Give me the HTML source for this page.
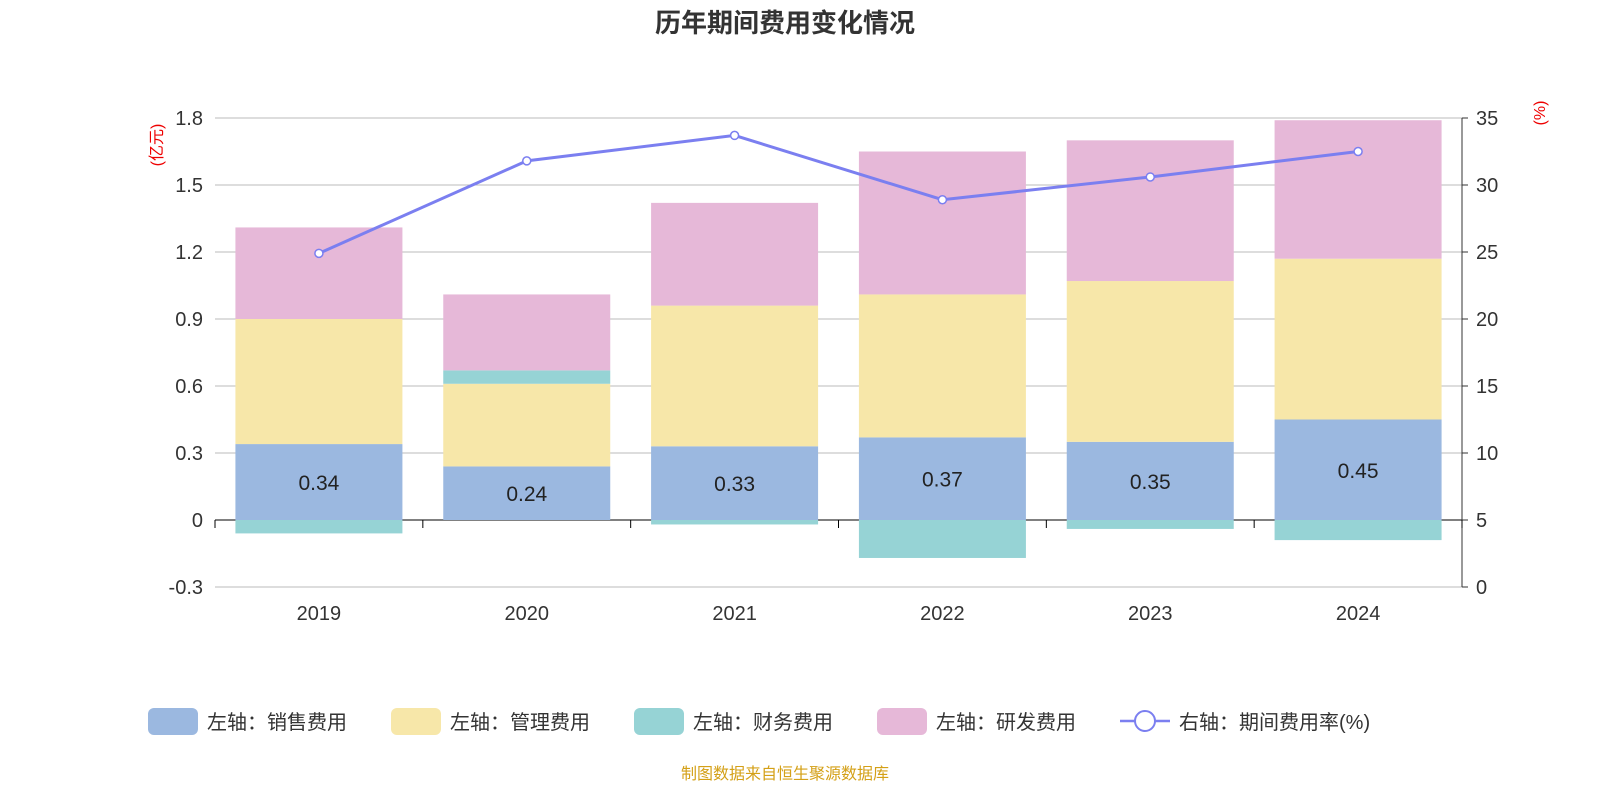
<!DOCTYPE html>
<html><head><meta charset="utf-8">
<style>
body{margin:0;background:#fff;font-family:"Liberation Sans","Noto Sans CJK SC",sans-serif;}
svg text{font-family:"Liberation Sans","Noto Sans CJK SC",sans-serif;}
</style></head>
<body>
<svg id="chart" width="1600" height="800" xmlns="http://www.w3.org/2000/svg">
<text x="785" y="32" text-anchor="middle" font-size="26" font-weight="bold" fill="#333">历年期间费用变化情况</text>
<text transform="translate(162,145) rotate(-90)" text-anchor="middle" font-size="16" fill="#e00">(亿元)</text>
<text transform="translate(1545,113) rotate(-90)" text-anchor="middle" font-size="16" fill="#e00">(%)</text>
<g id="grid"></g><g id="bars"></g><g id="line"></g><g id="axes"></g>
<g id="legend" font-size="20" fill="#333">
<rect x="148" y="708" width="50" height="27" rx="6" fill="#9bb8e0"/><text x="207" y="729">左轴：销售费用</text>
<rect x="391" y="708" width="50" height="27" rx="6" fill="#f7e7a9"/><text x="450" y="729">左轴：管理费用</text>
<rect x="634" y="708" width="50" height="27" rx="6" fill="#96d3d5"/><text x="693" y="729">左轴：财务费用</text>
<rect x="877" y="708" width="50" height="27" rx="6" fill="#e6b8d8"/><text x="936" y="729">左轴：研发费用</text>
<line x1="1120" y1="721" x2="1170" y2="721" stroke="#7b7ff0" stroke-width="2.5"/><circle cx="1145" cy="721" r="10" fill="#fff" stroke="#7b7ff0" stroke-width="2"/><text x="1179" y="729">右轴：期间费用率(%)</text>
</g>
<text x="785" y="779" text-anchor="middle" font-size="16" fill="#d4a017">制图数据来自恒生聚源数据库</text>
</svg>
<script>
const years=["2019","2020","2021","2022","2023","2024"];
const sales=[0.34,0.24,0.33,0.37,0.35,0.45];
const mgmt=[0.56,0.37,0.63,0.64,0.72,0.72];
const fin=[-0.06,0.06,-0.02,-0.17,-0.04,-0.09];
const rd=[0.41,0.34,0.46,0.64,0.63,0.62];
const rate=[24.9,31.8,33.7,28.9,30.6,32.5];
const leftTicks=[-0.3,0,0.3,0.6,0.9,1.2,1.5,1.8];
const rightTicks=[0,5,10,15,20,25,30,35];
const NS="http://www.w3.org/2000/svg";
const X0=215,X1=1462,T=118,B=587;
const band=(X1-X0)/years.length;
const xc=i=>X0+band*(i+0.5);
const yL=v=>B-(v+0.3)/2.1*(B-T);
const yR=v=>B-v/35*(B-T);
function mk(tag,attrs,parent){const e=document.createElementNS(NS,tag);for(const k in attrs)e.setAttribute(k,attrs[k]);document.getElementById(parent).appendChild(e);return e;}
leftTicks.forEach((t,i)=>{
 const g=mk('line',{x1:X0,x2:X1,y1:yL(t),y2:yL(t),stroke:t===0?'#000':'#bbb','stroke-width':1},'grid');
 
 
 const l=mk('text',{x:X0-12,y:yL(t)+7,'text-anchor':'end','font-size':20,fill:'#333'},'axes');l.textContent=String(t);
 
 
});
rightTicks.forEach(t=>{
 mk('line',{x1:X1,x2:X1+6,y1:yR(t),y2:yR(t),stroke:'#333'},'axes');
 const l=mk('text',{x:X1+14,y:yR(t)+7,'font-size':20,fill:'#333'},'axes');l.textContent=String(t);
 
 
});
mk('line',{x1:X1,x2:X1,y1:T,y2:B,stroke:'#333'},'axes');
for(let i=0;i<=years.length;i++){mk('line',{x1:X0+band*i,x2:X0+band*i,y1:yL(0),y2:yL(0)+8,stroke:'#000'},'axes');}
const bw=167;
years.forEach((y,i)=>{
 const lab=mk('text',{x:xc(i),y:620,'text-anchor':'middle','font-size':20,fill:'#333'},'axes');lab.textContent=y;
 
 
 let pos=0,neg=0;
 const series=[[sales[i],'#9bb8e0','bar-sales'],[mgmt[i],'#f7e7a9','bar-management'],[fin[i],'#96d3d5','bar-finance'],[rd[i],'#e6b8d8','bar-rd']];
 series.forEach(([v,c,n])=>{
  let a,b;
  if(v>=0){a=pos;b=pos+v;pos=b;}else{a=neg;b=neg+v;neg=b;}
  const r=mk('rect',{x:xc(i)-bw/2,y:Math.min(yL(a),yL(b)),width:bw,height:Math.abs(yL(a)-yL(b)),fill:c},'bars');
  
  
 });
 const t=mk('text',{x:xc(i),y:(yL(0)+yL(sales[i]))/2+8,'text-anchor':'middle','font-size':21,fill:'#222'},'bars');t.textContent=sales[i].toFixed(2);
 
 
});
const p=mk('polyline',{points:rate.map((v,i)=>xc(i)+','+yR(v)).join(' '),fill:'none',stroke:'#7b7ff0','stroke-width':3},'line');


rate.forEach((v,i)=>{const c=mk('circle',{cx:xc(i),cy:yR(v),r:4,fill:'#fff',stroke:'#7b7ff0','stroke-width':1.5},'line');
 
 });
</script>
</body></html>
